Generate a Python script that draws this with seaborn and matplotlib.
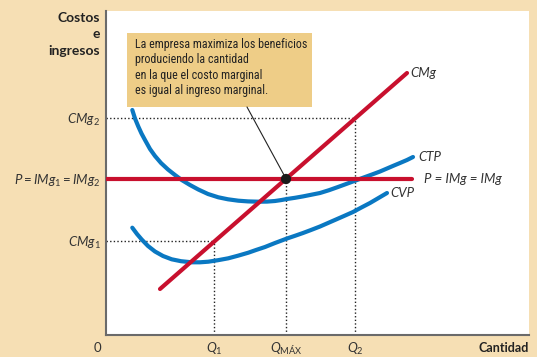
import numpy as np
import pandas as pd
import matplotlib
matplotlib.use("Agg")
import matplotlib.pyplot as plt
from matplotlib.patches import Rectangle
from matplotlib import font_manager as fm
import seaborn as sns

# ---- data (units: axis units, origin at bottom-left) ----
ctp_x = [26.3, 29, 32.3, 35.5, 39, 44, 49, 55, 62, 69, 75.7, 84, 92.3, 102, 112.3, 122, 132.3, 142, 152.3,
         161, 169, 175, 181, 189, 197, 205, 214, 223, 232, 241, 251, 258, 266, 274, 281, 288, 294, 301, 307]
ctp_y = [225, 216.5, 208.5, 201.5, 195, 186, 179, 172, 165.5, 160, 155, 150, 145.5, 141, 137.7, 135.7, 134.3, 133.6, 133.3,
         133.4, 134, 134.9, 136, 137.2, 138.6, 140.2, 142, 144.8, 148, 151.3, 155, 157.6, 160.5, 163.5, 166.5, 169.5, 172, 175, 178]

cvp_x = [26.3, 31, 35.7, 42, 49, 57, 65.7, 75, 85.7, 94, 102.3, 112, 122.3, 132, 142.3, 150, 159, 169, 181,
         189, 197, 205, 214, 222, 230, 238, 247, 255, 264, 272, 281]
cvp_y = [107.3, 101, 95.5, 89, 83.5, 79, 75.7, 73.8, 72.7, 72.7, 73.3, 74.8, 76.7, 79.3, 82.3, 85, 88, 92, 96.5,
         99.2, 102, 105, 108.5, 112, 115.5, 119, 123, 127.3, 132, 136.7, 142]

cmg_x = [54, 301]
cmg_y = [46, 262]

price = 156
p_x = [0, 306]

q_vals = [108, 180, 249]
q_labels = ["$Q_1$", "$Q_{\\mathregular{MÁX}}$", "$Q_2$"]
cmg1, cmg2 = 94, 217
y_labels = ["$CMg_1$", "$P = IMg_1 = IMg_2$", "$CMg_2$"]
note = "La empresa maximiza los beneficios\nproduciendo la cantidad\nen la que el costo marginal\nes igual al ingreso marginal."

RED = "#C8102E"
BLUE = "#0A78C2"
BG = "#F6DFB4"
BOX = "#EECD87"
TXT = "#333333"

sns.set_style("white")
plt.rcParams["font.family"] = ["Lato", "DejaVu Sans"]
plt.rcParams["mathtext.fontset"] = "custom"
plt.rcParams["mathtext.it"] = "Lato:italic"
plt.rcParams["mathtext.rm"] = "Lato"
plt.rcParams["mathtext.bf"] = "Lato:bold"


def pick_family(cands):
    for c in cands:
        try:
            fm.findfont(fm.FontProperties(family=c), fallback_to_default=False)
            return c
        except Exception:
            continue
    return "Lato"


note_family = pick_family(["Roboto Condensed", "Liberation Sans Narrow", "Open Sans Condensed",
                           "DejaVu Sans Condensed", "Noto Sans Condensed", "Lato"])

fig = plt.figure(figsize=(5.37, 3.57), dpi=100, facecolor=BG)
ax = fig.add_axes([106 / 537, 22 / 357, 423 / 537, 324 / 357])
ax.set_facecolor("white")
ax.set_xlim(0, 423)
ax.set_ylim(0, 324)

df_ctp = pd.DataFrame({"x": ctp_x, "y": ctp_y})
df_cvp = pd.DataFrame({"x": cvp_x, "y": cvp_y})
df_cmg = pd.DataFrame({"x": cmg_x, "y": cmg_y})
df_p = pd.DataFrame({"x": p_x, "y": [price, price]})

# dotted guide lines
dot_kw = dict(color="#222222", lw=1.0, ls=(0, (1, 1.6)), zorder=1)
ax.plot([0, q_vals[2]], [cmg2, cmg2], **dot_kw)
ax.plot([0, q_vals[0]], [cmg1, cmg1], **dot_kw)
ax.plot([q_vals[0], q_vals[0]], [0, cmg1], **dot_kw)
ax.plot([q_vals[1], q_vals[1]], [0, price], **dot_kw)
ax.plot([q_vals[2], q_vals[2]], [0, cmg2], **dot_kw)

sns.lineplot(data=df_ctp, x="x", y="y", ax=ax, color=BLUE, lw=3, sort=False, estimator=None, zorder=3)
sns.lineplot(data=df_cvp, x="x", y="y", ax=ax, color=BLUE, lw=3, sort=False, estimator=None, zorder=3)
sns.lineplot(data=df_p, x="x", y="y", ax=ax, color=RED, lw=3, sort=False, estimator=None, zorder=4)
sns.lineplot(data=df_cmg, x="x", y="y", ax=ax, color=RED, lw=3, sort=False, estimator=None, zorder=4)
for ln in ax.lines[5:]:
    ln.set_solid_capstyle("round")
    ln.set_solid_joinstyle("round")
sns.scatterplot(x=[q_vals[1]], y=[price], ax=ax, color="#1a1a1a", s=55, zorder=6, edgecolor="none")

# annotation box
ax.add_patch(Rectangle((21, 228), 185, 74, facecolor=BOX, edgecolor="none", zorder=5))
ntext = ax.text(29, 297, note, family=[note_family, "DejaVu Sans"], fontsize=10, color="#222222",
                va="top", ha="left", linespacing=1.2, zorder=6)
# fit the first line of the note to the box width (about 172 px)
fig.canvas.draw()
r = fig.canvas.get_renderer()
probe = ax.text(0, 0, note.split("\n")[0], family=[note_family, "DejaVu Sans"], fontsize=10)
w = probe.get_window_extent(renderer=r).width
probe.remove()
fs = 10 * 172.0 / w
ntext.set_fontsize(fs)
ntext.set_linespacing(15.0 / (fs * 100 / 72.0))
ax.plot([141, 178], [228, 160], color="#222222", lw=0.8, zorder=5)

# curve labels
lab_kw = dict(style="italic", fontsize=9.5, color=TXT, va="center", ha="left")
ax.text(304, 262, "CMg", **lab_kw)
ax.text(312, 178, "CTP", **lab_kw)
ax.text(318, price, "P = IMg = IMg", **lab_kw)
ax.text(284, 142, "CVP", **lab_kw)

# spines / ticks
for s in ["top", "right"]:
    ax.spines[s].set_visible(False)
for s in ["left", "bottom"]:
    ax.spines[s].set_visible(True)
    ax.spines[s].set_color("#6a6a6a")
    ax.spines[s].set_linewidth(1.5)
ax.set_xticks(q_vals)
ax.set_xticklabels(q_labels, fontsize=9.5, color=TXT)
ax.set_yticks([cmg1, price, cmg2])
ax.set_yticklabels(y_labels, fontsize=9.5, color=TXT)
ax.tick_params(length=0, pad=4)
ax.set_xlabel("")
ax.set_ylabel("")

ylab_lines = ["Costos", "e", "ingresos"]
for i, t in enumerate(ylab_lines):
    fig.text(100 / 537, 1 - (18 + 16.5 * i) / 357, t, ha="right", va="center",
             fontsize=10, fontweight="bold", color="#222222")
fig.text(529 / 537, 1 - 348 / 357, "Cantidad", ha="right", va="center",
         fontsize=9, fontweight="bold", color="#222222")
fig.text(97 / 537, 1 - 348 / 357, "0", ha="center", va="center", fontsize=9.5, color=TXT)

fig.savefig("out.png", dpi=100, facecolor=BG)
